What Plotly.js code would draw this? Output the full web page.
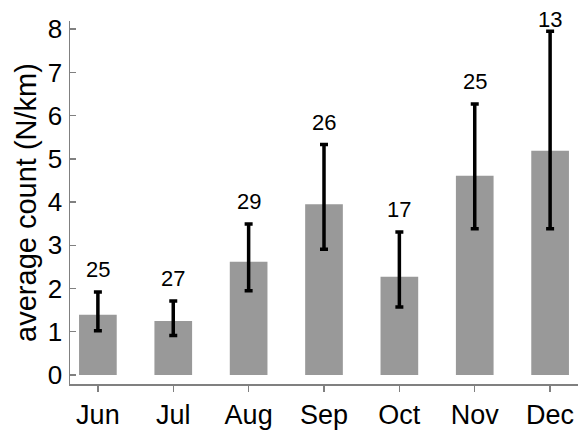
<!DOCTYPE html>
<html><head><meta charset="utf-8">
<script src="https://cdn.plot.ly/plotly-3.0.1.min.js"></script>
<style>html,body{margin:0;padding:0;background:#fff}#chart{width:578px;height:430px}</style>
</head><body><div id="chart"></div>
<script>
const months = ["Jun","Jul","Aug","Sep","Oct","Nov","Dec"];
const means = [1.39, 1.25, 2.62, 3.95, 2.27, 4.61, 5.19];
const lower = [1.02, 0.91, 1.95, 2.91, 1.57, 3.38, 3.38];
const upper = [1.92, 1.71, 3.49, 5.33, 3.31, 6.27, 7.95];
const nCounts = [25, 27, 29, 26, 17, 25, 13];

const font = "Liberation Sans, Arial, sans-serif";
const trace = {
  type: "bar", x: months, y: means, width: 0.5,
  marker: {color: "#999999", line: {width: 0}},
  error_y: {type: "data", symmetric: false,
    array: upper.map((u,i)=>u-means[i]),
    arrayminus: lower.map((l,i)=>means[i]-l),
    color: "#000", thickness: 3.5, width: 4},
  hoverinfo: "none"
};
// labels sit above the error bar, kept inside the figure at the top
const labelCeiling = 7.7;
const annotations = months.map((m,i)=>({
  x: m, y: Math.min(upper[i], labelCeiling), xref: "x", yref: "y", text: String(nCounts[i]),
  showarrow: false, yanchor: "bottom", yshift: 8,
  font: {family: font, size: 22, color: "#000"}
}));
const layout = {
  width: 578, height: 430,
  margin: {l: 70, r: 0, t: 21, b: 46},
  paper_bgcolor: "#fff", plot_bgcolor: "#fff",
  showlegend: false,
  annotations: annotations,
  xaxis: {type: "category", range: [-0.37, 6.37], showgrid: false, zeroline: false,
    showline: true, linecolor: "#808080", linewidth: 1.5,
    ticks: "outside", ticklen: 6, tickcolor: "#808080", tickwidth: 1.5,
    ticklabelstandoff: 0,
    tickfont: {family: font, size: 27, color: "#000"}},
  yaxis: {range: [-0.21, 8.19], dtick: 1, tick0: 0, showgrid: false, zeroline: false,
    showline: true, linecolor: "#808080", linewidth: 1.5,
    ticks: "inside", ticklen: 6, tickcolor: "#808080", tickwidth: 1.5,
    ticklabelstandoff: 1,
    tickfont: {family: font, size: 26, color: "#000"},
    title: {text: "average count (N/km)", font: {family: font, size: 29, color: "#000"}, standoff: 2}}
};
Plotly.newPlot("chart", [trace], layout, {staticPlot: true, displayModeBar: false});
</script></body></html>
